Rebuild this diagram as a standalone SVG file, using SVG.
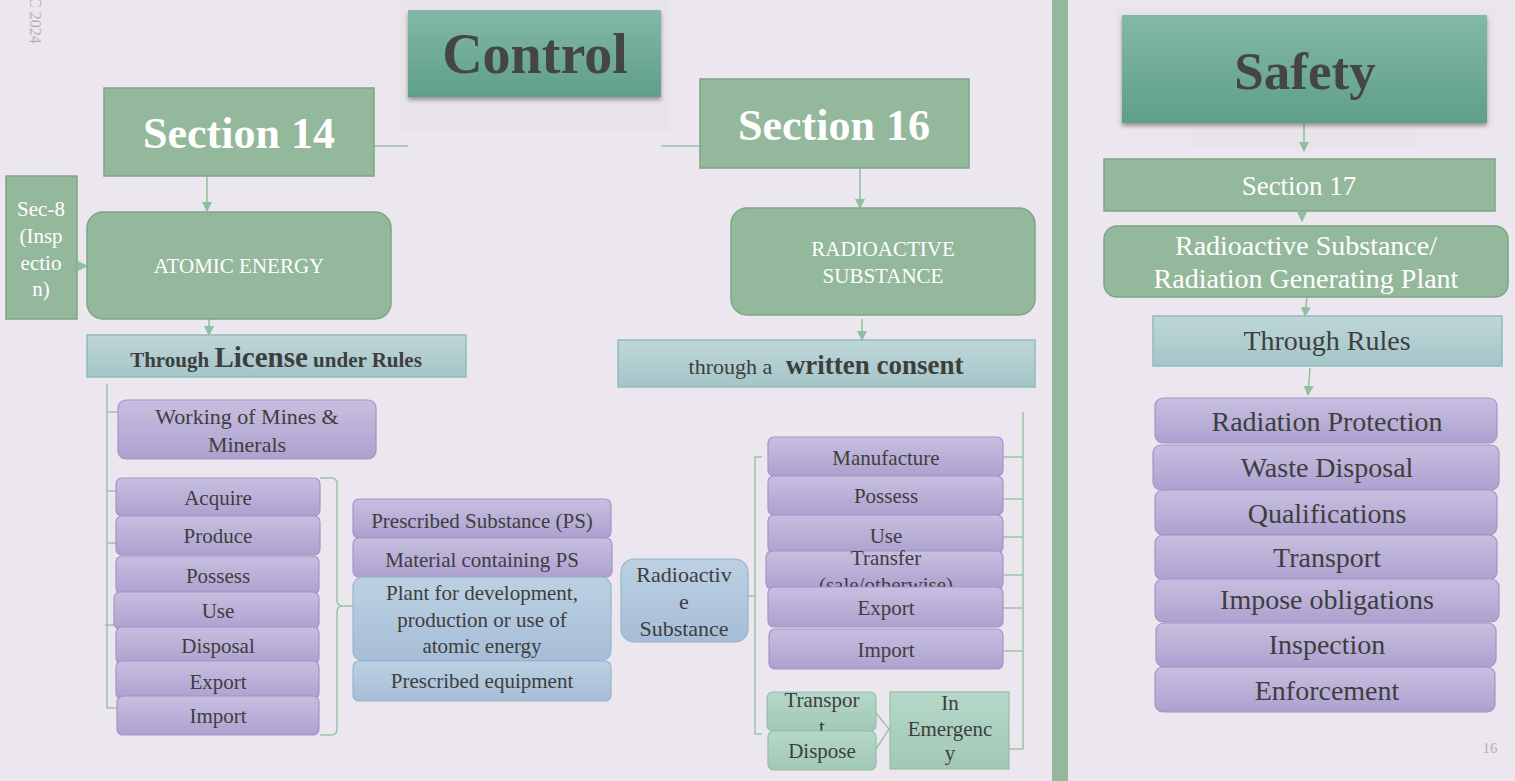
<svg xmlns="http://www.w3.org/2000/svg" width="1515" height="781" viewBox="0 0 1515 781">
  <defs>
    <linearGradient id="gTeal" x1="0" y1="0" x2="0" y2="1">
      <stop offset="0" stop-color="#82b9a6"/>
      <stop offset="1" stop-color="#5f9f89"/>
    </linearGradient>
    <linearGradient id="gPurple" x1="0" y1="0" x2="0" y2="1">
      <stop offset="0" stop-color="#c7bfe0"/>
      <stop offset="1" stop-color="#ada1cf"/>
    </linearGradient>
    <linearGradient id="gBlue" x1="0" y1="0" x2="0" y2="1">
      <stop offset="0" stop-color="#bcd1e2"/>
      <stop offset="1" stop-color="#a6bdd7"/>
    </linearGradient>
    <linearGradient id="gCyan" x1="0" y1="0" x2="0" y2="1">
      <stop offset="0" stop-color="#bed7d8"/>
      <stop offset="1" stop-color="#a5c5c8"/>
    </linearGradient>
    <linearGradient id="gMint" x1="0" y1="0" x2="0" y2="1">
      <stop offset="0" stop-color="#b6d8c9"/>
      <stop offset="1" stop-color="#a1c8b6"/>
    </linearGradient>
    <filter id="shadow" x="-10%" y="-10%" width="120%" height="130%">
      <feDropShadow dx="0" dy="3" stdDeviation="2" flood-color="#000" flood-opacity="0.35"/>
    </filter>
    <marker id="arr" markerUnits="userSpaceOnUse" markerWidth="10" markerHeight="10" refX="9" refY="5" orient="auto">
      <path d="M0,0 L10,5 L0,10 Z" fill="#8fbf9c"/>
    </marker>
    <style>
      text { font-family: "Liberation Serif", "DejaVu Serif", serif; text-anchor: middle; }
      .title { font-size: 56px; font-weight: bold; fill: #454545; }
      .sec { font-size: 44px; font-weight: bold; fill: #ffffff; }
      .wt { fill: #ffffff; }
      .dk { fill: #3e3e3e; }
      .f21 { font-size: 21px; }
      .f22 { font-size: 22px; }
      .f27 { font-size: 27px; }
      .f28 { font-size: 28px; }
      .green { fill: #94b89b; stroke: #7ea585; stroke-width: 1.5; }
      .purple { fill: url(#gPurple); stroke: #a394c9; stroke-width: 1.2; }
      .blue { fill: url(#gBlue); stroke: #97b4d0; stroke-width: 1.2; }
      .cyan { fill: url(#gCyan); stroke: #8fbcbc; stroke-width: 1.5; }
      .mint { fill: url(#gMint); stroke: #8fc0a8; stroke-width: 1.2; }
      .teal { fill: url(#gTeal); filter: url(#shadow); }
      .ln { fill: none; stroke: #9cc4a6; stroke-width: 1.5; }
      .ar { fill: none; stroke: #8fbf9c; stroke-width: 1.5; marker-end: url(#arr); }
    </style>
  </defs>

  <!-- page background -->
  <rect x="0" y="0" width="1515" height="781" fill="#ece7ee"/>
  <rect x="400" y="0" width="270" height="132" fill="#e9e3ea"/>
  <rect x="1115" y="8" width="380" height="118" fill="#e9e3ea"/>
  <rect x="1193" y="123" width="223" height="25" fill="#e9e3ea"/>

  <!-- vertical divider -->
  <rect x="1052" y="0" width="16" height="781" fill="#93b89a"/>

  <!-- footer marks -->
  <text transform="translate(30,-3) rotate(90)" x="0" y="0" style="font-size:16px;fill:#b3aeb3;text-anchor:start">C 2024</text>
  <text x="1490" y="753" style="font-size:15px;fill:#b3aeb3">16</text>

  <!-- connectors -->
  <g id="connectors">
    <path class="ln" d="M374,146 H408 M661,146 H700"/>
    <path class="ar" d="M207,176 V211"/>
    <path class="ar" d="M78,266 H87"/>
    <path class="ar" d="M209,319 V335"/>
    <path class="ar" d="M860,168 V208"/>
    <path class="ar" d="M862,319 V340"/>
    <!-- licence tree -->
    <path class="ln" d="M107,384 V708 M107,412 H118 M107,491 H116 M107,543 H116 M105,625 H114 M107,708 H117"/>
    <!-- brace to prescribed items -->
    <path class="ln" d="M320,478 H331 Q337,478 337,484 V600 Q337,606 343,606 H354 M343,606 Q337,606 337,612 V729 Q337,735 331,735 H320"/>
    <!-- radioactive substance bracket -->
    <path class="ln" d="M748,596 H755 M762,457 H755 V734 H762"/>
    <!-- right-side collector -->
    <path class="ln" d="M1023,412 V749 M1003,457 H1023 M1003,499 H1023 M1003,537 H1023 M1003,575 H1023 M1003,608 H1023 M1003,651 H1023 M1009,749 H1023"/>
    <path class="ln" d="M876,713 L889,729 L876,749"/>
    <!-- safety chain -->
    <path class="ar" d="M1304,124 V151"/>
    <path class="ar" d="M1302,211 V221"/>
    <path class="ar" d="M1307,297 L1305,316"/>
    <path class="ar" d="M1310,368 L1308,395"/>
  </g>

  <!-- CONTROL side -->
  <g id="control">
    <rect class="teal" x="408" y="10" width="253" height="87"/>
    <text class="title" x="535" y="73">Control</text>
  </g>
  <g id="section14">
    <rect class="green" x="104" y="88" width="270" height="88"/>
    <text class="sec" x="239" y="148">Section 14</text>
  </g>
  <g id="section16">
    <rect class="green" x="700" y="79" width="269" height="89"/>
    <text class="sec" x="834" y="140">Section 16</text>
  </g>
  <g id="sec8">
    <rect class="green" x="6" y="176" width="71" height="143"/>
    <text class="wt f21" x="41" y="216">Sec-8</text>
    <text class="wt f21" x="41" y="243">(Insp</text>
    <text class="wt f21" x="41" y="270">ectio</text>
    <text class="wt f21" x="41" y="296">n)</text>
  </g>
  <g id="atomic-energy">
    <rect class="green" x="87" y="212" width="304" height="107" rx="16"/>
    <text class="wt f21" x="239" y="273">ATOMIC ENERGY</text>
  </g>
  <g id="licence">
    <rect class="cyan" x="87" y="335" width="379" height="42"/>
    <text class="dk" x="276" y="367" style="font-weight:bold"><tspan style="font-size:21px">Through </tspan><tspan style="font-size:29px">License</tspan><tspan style="font-size:21px"> under Rules</tspan></text>
  </g>
  <g id="mines">
    <rect class="purple" x="118" y="400" width="258" height="59" rx="8"/>
    <text class="dk f22" x="247" y="424">Working of Mines &amp;</text>
    <text class="dk f22" x="247" y="452">Minerals</text>
  </g>
  <g id="acts-left">
    <rect class="purple" x="116" y="478" width="204" height="38" rx="6"/>
    <text class="dk f21" x="218" y="505">Acquire</text>
    <rect class="purple" x="116" y="516" width="204" height="39" rx="6"/>
    <text class="dk f21" x="218" y="543">Produce</text>
    <rect class="purple" x="116" y="556" width="203" height="38" rx="6"/>
    <text class="dk f21" x="218" y="583">Possess</text>
    <rect class="purple" x="114" y="592" width="205" height="37" rx="6"/>
    <text class="dk f21" x="218" y="618">Use</text>
    <rect class="purple" x="116" y="627" width="203" height="37" rx="6"/>
    <text class="dk f21" x="218" y="653">Disposal</text>
    <rect class="purple" x="116" y="661" width="203" height="38" rx="6"/>
    <text class="dk f21" x="218" y="689">Export</text>
    <rect class="purple" x="117" y="696" width="202" height="39" rx="6"/>
    <text class="dk f21" x="218" y="723">Import</text>
  </g>
  <g id="prescribed">
    <rect class="purple" x="353" y="499" width="258" height="39" rx="6"/>
    <text class="dk f21" x="482" y="528">Prescribed Substance (PS)</text>
    <rect class="purple" x="353" y="538" width="259" height="39" rx="6"/>
    <text class="dk f21" x="482" y="567">Material containing PS</text>
    <rect class="blue" x="353" y="577" width="258" height="84" rx="10"/>
    <text class="dk f21" x="482" y="600">Plant for development,</text>
    <text class="dk f21" x="482" y="627">production or use of</text>
    <text class="dk f21" x="482" y="653">atomic energy</text>
    <rect class="blue" x="353" y="661" width="258" height="40" rx="6"/>
    <text class="dk f21" x="482" y="688">Prescribed equipment</text>
  </g>
  <g id="radioactive-substance">
    <rect class="green" x="731" y="208" width="304" height="107" rx="16"/>
    <text class="wt f21" x="883" y="256">RADIOACTIVE</text>
    <text class="wt f21" x="883" y="283">SUBSTANCE</text>
  </g>
  <g id="consent">
    <rect class="cyan" x="618" y="340" width="417" height="47"/>
    <text class="dk" x="826" y="374"><tspan style="font-size:22px">through a </tspan><tspan dx="8" style="font-size:27px;font-weight:bold">written consent</tspan></text>
  </g>
  <g id="rs-node">
    <rect class="blue" x="621" y="559" width="127" height="83" rx="13"/>
    <text class="dk f22" x="684" y="582">Radioactiv</text>
    <text class="dk f22" x="684" y="609">e</text>
    <text class="dk f22" x="684" y="636">Substance</text>
  </g>
  <g id="acts-right">
    <rect class="purple" x="768" y="437" width="235" height="39" rx="6"/>
    <text class="dk f21" x="886" y="465">Manufacture</text>
    <rect class="purple" x="768" y="476" width="235" height="39" rx="6"/>
    <text class="dk f21" x="886" y="503">Possess</text>
    <rect class="purple" x="768" y="515" width="235" height="38" rx="6"/>
    <text class="dk f21" x="886" y="543">Use</text>
    <rect class="purple" x="766" y="551" width="237" height="38" rx="6"/>
    <text class="dk f21" x="886" y="565">Transfer</text>
    <text class="dk f21" x="886" y="592">(sale/otherwise)</text>
    <rect class="purple" x="768" y="587" width="235" height="40" rx="6"/>
    <text class="dk f21" x="886" y="615">Export</text>
    <rect class="purple" x="769" y="629" width="234" height="40" rx="6"/>
    <text class="dk f21" x="886" y="657">Import</text>
  </g>
  <g id="emergency">
    <rect class="mint" x="767" y="692" width="109" height="39" rx="6"/>
    <text class="dk f21" x="822" y="707">Transpor</text>
    <text class="dk f21" x="822" y="734">t</text>
    <rect class="mint" x="768" y="731" width="108" height="39" rx="6"/>
    <text class="dk f21" x="822" y="758">Dispose</text>
    <rect class="mint" x="890" y="692" width="119" height="77"/>
    <text class="dk f21" x="950" y="710">In</text>
    <text class="dk f21" x="950" y="736">Emergenc</text>
    <text class="dk f21" x="950" y="760">y</text>
  </g>

  <!-- SAFETY side -->
  <g id="safety">
    <rect class="teal" x="1122" y="15" width="365" height="108"/>
    <text class="title" x="1305" y="89" style="font-size:53px">Safety</text>
  </g>
  <g id="section17">
    <rect class="green" x="1104" y="159" width="391" height="52"/>
    <text class="wt f27" x="1299" y="195">Section 17</text>
  </g>
  <g id="plant">
    <rect class="green" x="1104" y="226" width="404" height="71" rx="13"/>
    <text class="wt f28" x="1306" y="255">Radioactive Substance/</text>
    <text class="wt f28" x="1306" y="288">Radiation Generating Plant</text>
  </g>
  <g id="rules">
    <rect class="cyan" x="1153" y="316" width="349" height="50"/>
    <text class="dk f28" x="1327" y="350">Through Rules</text>
  </g>
  <g id="safety-items">
    <rect class="purple" x="1155" y="398" width="342" height="45" rx="8"/>
    <text class="dk f28" x="1327" y="431">Radiation Protection</text>
    <rect class="purple" x="1153" y="445" width="346" height="45" rx="8"/>
    <text class="dk f28" x="1327" y="477">Waste Disposal</text>
    <rect class="purple" x="1155" y="490" width="342" height="45" rx="8"/>
    <text class="dk f28" x="1327" y="523">Qualifications</text>
    <rect class="purple" x="1155" y="535" width="342" height="45" rx="8"/>
    <text class="dk f28" x="1327" y="567">Transport</text>
    <rect class="purple" x="1155" y="579" width="344" height="43" rx="8"/>
    <text class="dk f28" x="1327" y="609">Impose obligations</text>
    <rect class="purple" x="1156" y="623" width="340" height="44" rx="8"/>
    <text class="dk f28" x="1327" y="654">Inspection</text>
    <rect class="purple" x="1155" y="667" width="340" height="45" rx="8"/>
    <text class="dk f28" x="1327" y="700">Enforcement</text>
  </g>
</svg>
